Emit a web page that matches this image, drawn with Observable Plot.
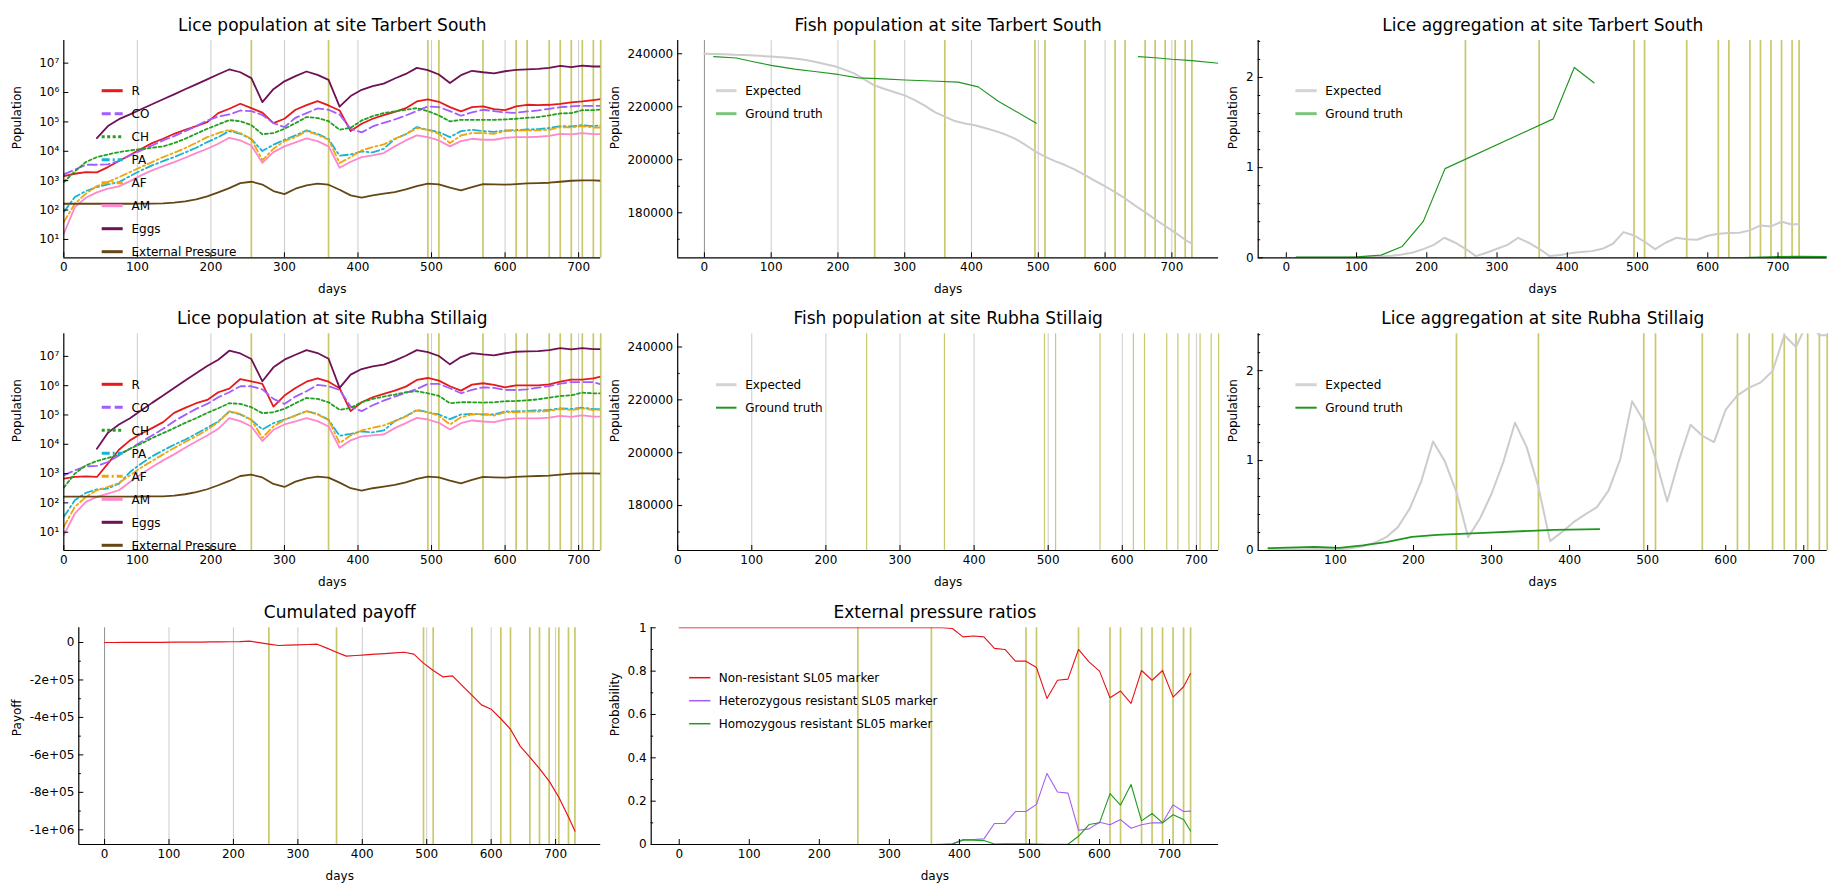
<!DOCTYPE html>
<html>
<head>
<meta charset="utf-8">
<script src="https://cdn.jsdelivr.net/npm/d3@7"></script>
<script src="https://cdn.jsdelivr.net/npm/@observablehq/plot@0.6"></script>
<style>
  body { margin: 0; background: white; }
  #fig { position: relative; width: 1836px; height: 893px; background: white; }
  #fig svg { position: absolute; left: 0; top: 0; }
</style>
</head>
<body>
<div id="fig"></div>
<script>
// ---- simulation output, sampled every 15 days ----
const days = [0, 15, 30, 45, 60, 75, 90, 105, 120, 135, 150, 165, 180, 195, 210, 225, 240, 255, 270, 285,
  300, 315, 330, 345, 360, 375, 390, 405, 420, 435, 450, 465, 480, 495, 510, 525, 540, 555, 570, 585,
  600, 615, 630, 645, 660, 675, 690, 705, 720, 730];

// treatment days (shared by both farms)
const treatmentDays = [255, 360, 495, 510, 570, 615, 630, 660, 675, 690, 705, 720, 730];
const centuries = [0, 100, 200, 300, 400, 500, 600, 700];

const stageNames = ["R", "CO", "CH", "PA", "AF", "AM", "Eggs", "External Pressure"];

// Tarbert South lice stages
const tarbertR = [1.43e3, 1.72e3, 1.96e3, 1.91e3, 2.90e3, 4.65e3, 7.43e3, 1.19e4, 1.90e4, 2.67e4,
  3.94e4, 5.40e4, 7.19e4, 9.84e4, 1.99e5, 2.80e5, 4.14e5, 2.94e5, 2.07e5, 9.10e4,
  1.28e5, 2.59e5, 3.72e5, 5.09e5, 3.63e5, 2.45e5, 4.86e4, 8.65e4, 1.28e5, 1.70e5,
  2.21e5, 2.94e5, 4.97e5, 5.81e5, 4.84e5, 3.18e5, 2.27e5, 3.18e5, 3.36e5, 2.72e5,
  2.51e5, 3.36e5, 3.83e5, 3.72e5, 3.83e5, 4.14e5, 4.59e5, 4.97e5, 5.51e5, 5.97e5];
const tarbertCO = [1.63e3, 2.36e3, 3.48e3, 3.48e3, 3.57e3, 4.65e3, 7.23e3, 1.07e4, 1.58e4, 2.34e4,
  3.29e4, 4.86e4, 7.19e4, 1.12e5, 1.53e5, 1.79e5, 2.45e5, 2.33e5, 1.73e5, 9.10e4,
  6.65e4, 1.38e5, 2.00e5, 2.87e5, 2.59e5, 1.79e5, 5.83e4, 4.39e4, 7.01e4, 9.35e4,
  1.21e5, 1.66e5, 2.33e5, 3.36e5, 3.18e5, 2.33e5, 1.62e5, 2.10e5, 2.59e5, 2.33e5,
  2.10e5, 2.04e5, 2.27e5, 2.45e5, 2.80e5, 3.18e5, 3.36e5, 3.54e5, 3.54e5, 3.54e5];
const tarbertCH = [8.95e2, 2.07e3, 4.30e3, 6.35e3, 7.82e3, 9.40e3, 1.07e4, 1.19e4, 1.32e4, 1.47e4,
  1.90e4, 2.67e4, 3.94e4, 5.83e4, 8.20e4, 1.15e5, 1.06e5, 7.78e4, 3.79e4, 4.16e4,
  5.83e4, 9.10e4, 1.46e5, 1.35e5, 1.06e5, 5.40e4, 6.31e4, 1.12e5, 1.57e5, 2.00e5,
  2.27e5, 2.59e5, 2.94e5, 2.33e5, 1.66e5, 1.04e5, 1.18e5, 1.18e5, 1.18e5, 1.18e5,
  1.21e5, 1.28e5, 1.38e5, 1.46e5, 1.66e5, 1.94e5, 1.99e5, 2.51e5, 2.51e5, 2.65e5];
const tarbertPA = [85.5, 277, 443, 605, 746, 895, 1.43e3, 2.23e3, 3.30e3, 4.65e3,
  6.35e3, 9.14e3, 1.32e4, 2.06e4, 3.04e4, 4.86e4, 3.94e4, 2.60e4, 1.02e4, 1.67e4,
  2.47e4, 3.47e4, 5.13e4, 3.94e4, 2.60e4, 7.05e3, 7.82e3, 9.89e3, 9.14e3, 1.22e4,
  2.60e4, 3.85e4, 6.65e4, 5.40e4, 4.50e4, 3.04e4, 4.86e4, 5.40e4, 4.86e4, 4.61e4,
  5.13e4, 5.26e4, 5.55e4, 5.69e4, 6.15e4, 7.19e4, 7.01e4, 7.78e4, 7.19e4, 7.59e4];
const tarbertAF = [39.1, 164, 360, 655, 895, 1.32e3, 1.96e3, 2.90e3, 4.30e3, 6.35e3,
  8.91e3, 1.29e4, 1.95e4, 3.04e4, 4.16e4, 5.40e4, 4.16e4, 2.67e4, 4.89e3, 1.22e4,
  2.22e4, 3.04e4, 4.86e4, 3.65e4, 2.47e4, 3.97e3, 6.35e3, 1.07e4, 1.39e4, 1.71e4,
  2.67e4, 3.75e4, 6.15e4, 5.40e4, 3.94e4, 1.90e4, 3.47e4, 4.16e4, 4.16e4, 3.94e4,
  4.86e4, 4.99e4, 5.13e4, 5.13e4, 5.40e4, 6.65e4, 6.46e4, 7.19e4, 6.46e4, 6.46e4];
const tarbertAM = [15.7, 126, 263, 399, 532, 638, 968, 1.51e3, 2.23e3, 3.14e3,
  4.30e3, 6.03e3, 8.69e3, 1.22e4, 1.80e4, 2.88e4, 2.34e4, 1.58e4, 4.03e3, 9.40e3,
  1.47e4, 2.00e4, 2.74e4, 2.22e4, 1.47e4, 2.75e3, 4.41e3, 6.35e3, 7.23e3, 8.69e3,
  1.47e4, 2.34e4, 3.47e4, 3.04e4, 2.34e4, 1.47e4, 2.22e4, 2.67e4, 2.47e4, 2.47e4,
  2.88e4, 3.04e4, 3.04e4, 3.12e4, 3.37e4, 3.94e4, 3.75e4, 4.16e4, 3.85e4, 3.85e4];
const tarbertEggs = [null, null, null, 2.8e4, 7.2e4, 1.24e5, 1.8e5, 2.7e5, 4.0e5, 5.9e5,
  8.7e5, 1.29e6, 1.9e6, 2.8e6, 4.2e6, 6.1e6, 4.9e6, 3.1e6, 4.7e5, 1.3e6,
  2.4e6, 3.6e6, 5.2e6, 4.0e6, 2.7e6, 3.3e5, 7.6e5, 1.24e6, 1.65e6, 2.0e6,
  3.0e6, 4.3e6, 6.9e6, 5.8e6, 4.1e6, 2.1e6, 3.9e6, 5.5e6, 4.9e6, 4.5e6,
  5.3e6, 5.9e6, 6.1e6, 6.4e6, 6.9e6, 8.1e6, 7.3e6, 8.3e6, 7.7e6, 7.7e6];

// external pressure, identical for both farms
const externalPressure = [164, 164, 164, 164, 164, 164, 164, 165, 166, 168,
  178, 197, 231, 292, 399, 560, 828, 920, 738, 443,
  350, 532, 690, 787, 728, 492, 316, 263, 316, 360,
  409, 505, 655, 787, 746, 575, 467, 605, 766, 746,
  728, 766, 807, 828, 851, 920, 995, 1020, 1020, 995];

// Rubha Stillaig lice stages
const rubhaR = [673, 766, 807, 766, 2.18e3, 6.52e3, 1.36e4, 2.28e4, 3.56e4, 5.69e4,
  1.18e5, 1.75e5, 2.52e5, 3.27e5, 5.97e5, 7.94e5, 1.69e6, 1.41e6, 1.15e6, 1.94e5,
  4.59e5, 8.38e5, 1.37e6, 1.79e6, 1.37e6, 8.17e5, 1.35e5, 2.72e5, 4.03e5, 5.24e5,
  6.79e5, 9.29e5, 1.57e6, 1.83e6, 1.49e6, 9.55e5, 6.79e5, 1.09e6, 1.21e6, 1.06e6,
  8.83e5, 1.03e6, 1.03e6, 1.03e6, 1.11e6, 1.37e6, 1.60e6, 1.60e6, 1.78e6, 2.03e6];
const rubhaCO = [873, 1.29e3, 1.77e3, 1.82e3, 2.48e3, 4.18e3, 7.05e3, 1.19e4, 2.00e4, 3.37e4,
  6.15e4, 1.01e5, 1.62e5, 2.39e5, 4.03e5, 5.97e5, 9.55e5, 9.55e5, 7.45e5, 3.54e5,
  2.39e5, 4.25e5, 6.46e5, 1.06e6, 9.55e5, 7.16e5, 1.94e5, 1.35e5, 2.15e5, 3.10e5,
  4.25e5, 5.66e5, 7.74e5, 1.15e6, 1.15e6, 8.17e5, 5.51e5, 7.16e5, 8.83e5, 8.38e5,
  7.16e5, 7.11e5, 7.50e5, 8.55e5, 9.75e5, 1.17e6, 1.33e6, 1.33e6, 1.33e6, 1.11e6];
const rubhaCH = [333, 995, 1.91e3, 2.69e3, 3.40e3, 4.52e3, 7.05e3, 1.04e4, 1.63e4, 2.40e4,
  3.56e4, 5.40e4, 7.78e4, 1.18e5, 1.70e5, 2.52e5, 2.39e5, 1.84e5, 1.15e5, 1.24e5,
  1.62e5, 2.52e5, 3.83e5, 3.54e5, 2.72e5, 1.50e5, 1.75e5, 2.72e5, 3.54e5, 4.25e5,
  4.97e5, 5.97e5, 6.46e5, 5.51e5, 4.48e5, 2.52e5, 2.72e5, 2.72e5, 2.65e5, 2.72e5,
  2.94e5, 3.00e5, 3.16e5, 3.42e5, 3.90e5, 4.45e5, 4.68e5, 5.77e5, 5.48e5, 5.48e5];
const rubhaPA = [33.4, 123, 219, 292, 308, 455, 1.13e3, 2.18e3, 3.86e3, 6.18e3,
  9.64e3, 1.43e4, 2.28e4, 3.65e4, 6.00e4, 1.31e5, 1.04e5, 6.82e4, 3.21e4, 5.26e4,
  7.01e4, 9.59e4, 1.35e5, 1.09e5, 6.82e4, 1.95e4, 2.28e4, 2.74e4, 2.54e4, 2.96e4,
  6.15e4, 9.10e4, 1.50e5, 1.24e5, 1.04e5, 7.19e4, 1.04e5, 1.09e5, 1.04e5, 1.04e5,
  1.31e5, 1.33e5, 1.37e5, 1.44e5, 1.48e5, 1.69e5, 1.60e5, 1.78e5, 1.60e5, 1.56e5];
const rubhaAF = [15.3, 73.1, 160, 270, 350, 479, 873, 1.59e3, 2.69e3, 4.52e3,
  7.43e3, 1.19e4, 1.90e4, 3.12e4, 5.69e4, 1.35e5, 1.09e5, 6.82e4, 1.67e4, 4.06e4,
  6.82e4, 9.59e4, 1.35e5, 1.04e5, 6.82e4, 1.10e4, 2.00e4, 2.96e4, 3.65e4, 4.39e4,
  6.15e4, 8.87e4, 1.42e5, 1.24e5, 9.35e4, 4.74e4, 8.41e4, 1.04e5, 1.09e5, 9.59e4,
  1.24e5, 1.23e5, 1.30e5, 1.30e5, 1.37e5, 1.60e5, 1.48e5, 1.69e5, 1.48e5, 1.52e5];
const rubhaAM = [7.94, 43.4, 108, 160, 207, 270, 518, 944, 1.67e3, 2.82e3,
  4.52e3, 7.62e3, 1.25e4, 2.00e4, 3.37e4, 7.78e4, 6.15e4, 4.06e4, 1.29e4, 3.12e4,
  4.74e4, 6.00e4, 7.78e4, 6.15e4, 4.06e4, 7.62e3, 1.36e4, 1.85e4, 2.00e4, 2.17e4,
  3.56e4, 5.26e4, 7.98e4, 7.01e4, 5.40e4, 3.21e4, 5.26e4, 6.49e4, 6.00e4, 5.69e4,
  7.01e4, 7.69e4, 7.69e4, 7.69e4, 8.11e4, 9.25e4, 8.55e4, 9.75e4, 8.77e4, 8.77e4];
const rubhaEggs = [null, null, null, 7.05e3, 2.47e4, 4.74e4, 7.78e4, 1.42e5, 2.59e5, 4.59e5,
  8.38e5, 1.49e6, 2.64e6, 4.69e6, 7.71e6, 1.56e7, 1.26e7, 8.11e6, 1.41e6, 4.23e6,
  7.71e6, 1.14e7, 1.64e7, 1.30e7, 8.34e6, 8.38e5, 2.38e6, 3.71e6, 4.57e6, 5.21e6,
  7.13e6, 1.05e7, 1.64e7, 1.40e7, 1.03e7, 5.35e6, 9.48e6, 1.30e7, 1.17e7, 1.08e7,
  1.28e7, 1.44e7, 1.48e7, 1.52e7, 1.64e7, 1.92e7, 1.73e7, 1.92e7, 1.78e7, 1.78e7];

// fish counts at Tarbert South
const tarbertFishExpected = [240000, 239900, 239800, 239600, 239500, 239300, 239100, 238900, 238600, 238200,
  237700, 237000, 236100, 235300, 234000, 232500, 230200, 228000, 226700, 225500,
  224300, 222500, 220400, 218000, 216300, 214600, 213700, 213000, 212000, 210900,
  209600, 208000, 205700, 203200, 201200, 199500, 198000, 196300, 194200, 192000,
  190000, 187800, 185400, 182700, 180200, 177500, 175000, 172500, 169800, 168300];
const tarbertFishSampleDays = [14, 48, 75, 100, 135, 165, 200, 230, 260, 300, 340, 380, 410, 440, 497, 560, 650, 675, 700, 730, 770];
const tarbertFishObserved = [238900, 238400, 236900, 235600, 234200, 233300, 232200, 230900, 230600, 230100,
  229700, 229300, 227500, 222100, 213800, null, 238900, 238500, 237900, 237400, 236400];

// lice aggregation
const tarbertAggExpected = [null, 0.002, 0.003, 0.003, 0.004, 0.004, 0.005, 0.007, 0.011, 0.015,
  0.022, 0.037, 0.059, 0.096, 0.144, 0.222, 0.17, 0.1, 0.019, 0.056,
  0.1, 0.144, 0.222, 0.167, 0.1, 0.019, 0.03, 0.052, 0.063, 0.074,
  0.1, 0.156, 0.285, 0.248, 0.178, 0.096, 0.167, 0.222, 0.207, 0.2,
  0.244, 0.267, 0.274, 0.278, 0.304, 0.359, 0.348, 0.4, 0.37, 0.374];
const tarbertAggSampleDays = [14, 50, 100, 135, 165, 195, 226, 380, 410, 438, 560, 650, 675, 700, 730, 770];
const tarbertAggObserved = [0.007, 0.008, 0.011, 0.03, 0.126, 0.404, 0.989, 1.541, 2.111, 1.941,
  null, 0.003, 0.008, 0.012, 0.016, 0.014];

const rubhaAggExpected = [null, 0.01, 0.012, 0.014, 0.015, 0.016, 0.016, 0.015, 0.026, 0.048,
  0.085, 0.148, 0.26, 0.464, 0.772, 1.213, 0.994, 0.649, 0.148, 0.353,
  0.631, 0.983, 1.421, 1.15, 0.705, 0.104, 0.204, 0.315, 0.401, 0.482,
  0.668, 1.02, 1.659, 1.44, 1.02, 0.545, 1.002, 1.399, 1.276, 1.206,
  1.566, 1.725, 1.811, 1.87, 1.996, 2.393, 2.263, 2.542, 2.393, 2.393];
const rubhaAggSampleDays = [14, 73, 105, 135, 165, 198, 230, 290, 350, 380, 438];
const rubhaAggObserved = [0.026, 0.041, 0.03, 0.056, 0.093, 0.152, 0.174, 0.197, 0.219, 0.23, 0.237];

// cumulated payoff
const payoff = [0, 0, 200, 400, 700, 900, 1200, 1500, 1800, 2100,
  2500, 2900, 3400, 4000, 4800, 7000, -600, -8500, -16000, -14000,
  -12500, -10700, -9000, -30000, -52000, -73000, -69500, -66000, -62400, -58900,
  -55300, -52000, -62000, -110000, -150000, -183000, -178000, -230000, -281000, -333000,
  -356000, -407000, -463000, -553000, -612000, -674000, -740000, -826000, -932000, -1007000];

// external pressure genotype ratios
const nonResistant = [1, 1, 1, 1, 1, 1, 1, 1, 1, 1, 1, 1, 1, 1, 1, 1, 1, 1, 1, 1, 1, 1, 1, 1, 1,
  1.0, 0.997, 0.958, 0.962, 0.958, 0.905, 0.9, 0.846, 0.846, 0.817, 0.674, 0.758, 0.763,
  0.9, 0.843, 0.8, 0.677, 0.708, 0.651, 0.803, 0.758, 0.803, 0.68, 0.728, 0.789];
const resistantDays = [360, 375, 390, 405, 420, 435, 450, 465, 480, 495, 510, 525, 540, 555,
  570, 585, 600, 615, 630, 645, 660, 675, 690, 705, 720, 730];
const heterozygous = [0, 0, 0.003, 0.023, 0.023, 0.026, 0.097, 0.097, 0.152, 0.152, 0.185, 0.328, 0.242, 0.237,
  0.066, 0.072, 0.103, 0.091, 0.115, 0.075, 0.091, 0.1, 0.1, 0.183, 0.152, 0.154];
const homozygous = [0, 0.001, 0.002, 0.02, 0.02, 0.018, 0.002, 0.003, 0.003, 0.003, 0.002, 0.001, 0.001, 0.001,
  0.038, 0.092, 0.1, 0.235, 0.182, 0.277, 0.109, 0.143, 0.1, 0.137, 0.115, 0.062];

// ---- styling ----
const FW = 1836, FH = 893;
const FONT = "'DejaVu Sans', sans-serif";
const TREAT = "#c9c96c";
const GRID = "#cbcbcb";
const EXPECTED = "#cccccc";
const OBSERVED = "#1f961f";
const stageStyles = [
  {color: "#e41a1c", dash: null},
  {color: "#a35cff", dash: "9,4"},
  {color: "#22a022", dash: "3,2.5"},
  {color: "#17b4d2", dash: "8,3,2,3"},
  {color: "#efa60c", dash: "7,3,2,3"},
  {color: "#ff88cc", dash: null},
  {color: "#6e1156", dash: null},
  {color: "#654716", dash: null}
];

const fig = document.getElementById("fig");
const rows = (xs, ys) => xs.map((x, i) => ({x, y: ys[i]}));
const sup = {1: "¹", 2: "²", 3: "³", 4: "⁴", 5: "⁵", 6: "⁶", 7: "⁷"};

function panel(o) {
  const [x0, x1, y0, y1] = o.frame;
  const pw = x1 - x0, ph = y1 - y0;
  const xTicks = centuries.filter(d => d >= o.xDomain[0] && d <= o.xDomain[1]);
  const marks = [];
  if (o.grid) {
    marks.push(Plot.ruleX(centuries.filter(d => d > 0), {stroke: GRID, strokeWidth: 1}));
    if (o.xDomain[0] < 0) marks.push(Plot.ruleX([0], {stroke: "#8f8f8f", strokeWidth: 1}));
  }
  marks.push(Plot.ruleX(treatmentDays, {stroke: TREAT, strokeWidth: o.treatWidth ?? 1.7}));
  marks.push(...o.marks);
  marks.push(Plot.ruleX([o.xDomain[0]], {stroke: "black", strokeWidth: 1.2}));
  marks.push(Plot.ruleY([o.yDomain[0]], {stroke: "black", strokeWidth: 1.2}));
  marks.push(Plot.tickX(xTicks, {x: d => d, insetTop: ph - 5, stroke: "black"}));
  marks.push(Plot.tickY(o.yTicks, {y: d => d, insetRight: pw - 5, stroke: "black"}));
  if (o.yMinor) marks.push(Plot.tickY(o.yMinor, {y: d => d, insetRight: pw - 2.5, stroke: "black"}));
  marks.push(Plot.text([o.title], {text: d => d, frameAnchor: "top", dy: o.titleY - y0, fontSize: 17, lineAnchor: "middle"}));
  marks.push(Plot.text(["days"], {text: d => d, frameAnchor: "bottom", dy: 31.5, fontSize: 12, lineAnchor: "middle"}));
  marks.push(Plot.text([o.yLabel], {text: d => d, frameAnchor: "left", dx: o.yLabelX - x0, rotate: -90, fontSize: 12, lineAnchor: "middle"}));
  const svg = Plot.plot({
    width: FW, height: FH,
    marginLeft: x0, marginRight: FW - x1, marginTop: y0, marginBottom: FH - y1,
    style: {background: "transparent", fontFamily: FONT, fontSize: "12px", color: "black", overflow: "visible"},
    x: {domain: o.xDomain, ticks: xTicks, tickSize: 0, tickPadding: 5, tickFormat: d => String(d), label: null},
    y: {type: o.yType || "linear", domain: o.yDomain, ticks: o.yTicks, tickSize: 0, tickPadding: 4.5, tickFormat: o.yFormat, label: null},
    marks
  });
  fig.append(svg);
}

function liceMarks(series) {
  return series.map((values, i) => Plot.line(rows(days, values), {
    x: "x", y: "y", stroke: stageStyles[i].color, strokeWidth: 1.8,
    strokeDasharray: stageStyles[i].dash, clip: true
  }));
}

const logAxis = {
  yType: "log", yDomain: [2.37, 5.9e7],
  yTicks: [1e1, 1e2, 1e3, 1e4, 1e5, 1e6, 1e7],
  yFormat: d => "10" + sup[Math.round(Math.log10(d))]
};
const fishAxis = {
  yDomain: [163000, 245000], yTicks: [180000, 200000, 220000, 240000],
  yMinor: [170000, 190000, 210000, 230000], yFormat: d => String(d)
};
const aggAxis = {
  yDomain: [0, 2.41], yTicks: [0, 1, 2],
  yMinor: [0.2, 0.4, 0.6, 0.8, 1.2, 1.4, 1.6, 1.8, 2.2, 2.4], yFormat: d => String(d)
};

// Row 1: Tarbert South
panel({
  frame: [63.3, 600.2, 40, 257.3], xDomain: [0, 730], ...logAxis, grid: true,
  title: "Lice population at site Tarbert South", titleY: 25, yLabel: "Population", yLabelX: 16.6,
  marks: liceMarks([tarbertR, tarbertCO, tarbertCH, tarbertPA, tarbertAF, tarbertAM, tarbertEggs, externalPressure])
});
panel({
  frame: [677.2, 1218.1, 40, 257.3], xDomain: [-40, 770], ...fishAxis, grid: true,
  title: "Fish population at site Tarbert South", titleY: 25, yLabel: "Population", yLabelX: 614.7,
  marks: [
    Plot.line(rows(days, tarbertFishExpected), {x: "x", y: "y", stroke: EXPECTED, strokeWidth: 2, clip: true}),
    Plot.line(rows(tarbertFishSampleDays, tarbertFishObserved), {x: "x", y: "y", stroke: OBSERVED, strokeWidth: 1.1, clip: true})
  ]
});
panel({
  frame: [1257.7, 1826.7, 40, 257.3], xDomain: [-40, 770], ...aggAxis, grid: false,
  title: "Lice aggregation at site Tarbert South", titleY: 25, yLabel: "Population", yLabelX: 1233,
  marks: [
    Plot.line(rows(days, tarbertAggExpected), {x: "x", y: "y", stroke: EXPECTED, strokeWidth: 2, clip: true}),
    Plot.line(rows(tarbertAggSampleDays, tarbertAggObserved), {x: "x", y: "y", stroke: OBSERVED, strokeWidth: 1.2, clip: true})
  ]
});

// Row 2: Rubha Stillaig
panel({
  frame: [63.3, 600.2, 333.3, 550], xDomain: [0, 730], ...logAxis, grid: true,
  title: "Lice population at site Rubha Stillaig", titleY: 318.3, yLabel: "Population", yLabelX: 16.6,
  marks: liceMarks([rubhaR, rubhaCO, rubhaCH, rubhaPA, rubhaAF, rubhaAM, rubhaEggs, externalPressure])
});
panel({
  frame: [677.2, 1218.1, 333.3, 550], xDomain: [0, 730], ...fishAxis, grid: true, treatWidth: 1.2,
  title: "Fish population at site Rubha Stillaig", titleY: 318.3, yLabel: "Population", yLabelX: 614.7,
  marks: []
});
panel({
  frame: [1257.7, 1826.7, 333.3, 550], xDomain: [1, 730], ...aggAxis, grid: false,
  title: "Lice aggregation at site Rubha Stillaig", titleY: 318.3, yLabel: "Population", yLabelX: 1233,
  marks: [
    Plot.line(rows(days, rubhaAggExpected), {x: "x", y: "y", stroke: EXPECTED, strokeWidth: 2, clip: true}),
    Plot.line(rows(rubhaAggSampleDays, rubhaAggObserved), {x: "x", y: "y", stroke: OBSERVED, strokeWidth: 1.8, clip: true})
  ]
});

// Row 3: payoff and genotype ratios
panel({
  frame: [78.3, 600.2, 627.3, 844], xDomain: [-40, 770], grid: true,
  yDomain: [-1078500, 78500], yTicks: [0, -2e5, -4e5, -6e5, -8e5, -1e6],
  yMinor: [-1e5, -3e5, -5e5, -7e5, -9e5],
  yFormat: d => d === 0 ? "0" : d.toExponential(0).replace(/e([+-])(\d)$/, "e$10$2"),
  title: "Cumulated payoff", titleY: 611.7, yLabel: "Payoff", yLabelX: 16.6,
  marks: [Plot.line(rows(days, payoff), {x: "x", y: "y", stroke: "#e8141a", strokeWidth: 1.2, clip: true})]
});
panel({
  frame: [650.7, 1218.1, 627.3, 844], xDomain: [-40, 770], grid: false,
  yDomain: [0, 1], yTicks: [0, 0.2, 0.4, 0.6, 0.8, 1], yMinor: [0.1, 0.3, 0.5, 0.7, 0.9],
  yFormat: d => String(d),
  title: "External pressure ratios", titleY: 611.7, yLabel: "Probability", yLabelX: 614.7,
  marks: [
    Plot.line(rows(days, nonResistant), {x: "x", y: "y", stroke: "#e8141a", strokeWidth: 1.1, clip: true}),
    Plot.line(rows(resistantDays, heterozygous), {x: "x", y: "y", stroke: "#a45cf5", strokeWidth: 1.1, clip: true}),
    Plot.line(rows(resistantDays, homozygous), {x: "x", y: "y", stroke: "#1e9a1e", strokeWidth: 1.1, clip: true})
  ]
});

// ---- legends ----
const legend = d3.create("svg")
  .attr("width", FW).attr("height", FH)
  .style("font-family", FONT).style("font-size", "12px");
function addLegend(entries, sx0, sx1, tx, yStart) {
  entries.forEach((e, i) => {
    const y = yStart + i * 23;
    legend.append("line")
      .attr("x1", sx0).attr("x2", sx1).attr("y1", y).attr("y2", y)
      .attr("stroke", e.color).attr("stroke-width", e.width)
      .attr("stroke-dasharray", e.dash || null);
    legend.append("text").attr("x", tx).attr("y", y).attr("dy", "0.35em").attr("fill", "black").text(e.label);
  });
}
const stageLegend = stageNames.map((label, i) => ({label, color: stageStyles[i].color, dash: stageStyles[i].dash, width: 3}));
addLegend(stageLegend, 101.7, 122.7, 131.5, 90.7);
addLegend(stageLegend, 101.7, 122.7, 131.5, 384.3);
const softLegend = [
  {label: "Expected", color: "#d3d3d3", width: 3},
  {label: "Ground truth", color: "#7cc47c", width: 3}
];
const sharpLegend = [
  {label: "Expected", color: "#d3d3d3", width: 3},
  {label: "Ground truth", color: "#1f961f", width: 2}
];
addLegend(softLegend, 716, 736.5, 745.2, 90.7);
addLegend(softLegend, 1295.4, 1316.7, 1325.3, 90.7);
addLegend(sharpLegend, 716, 736.5, 745.2, 384.7);
addLegend(sharpLegend, 1295.4, 1316.7, 1325.3, 384.7);
addLegend([
  {label: "Non-resistant SL05 marker", color: "#e8141a", width: 1.5},
  {label: "Heterozygous resistant SL05 marker", color: "#a45cf5", width: 1.5},
  {label: "Homozygous resistant SL05 marker", color: "#1e9a1e", width: 1.5}
], 689.1, 710.4, 718.7, 677.7);
fig.append(legend.node());
</script>
</body>
</html>
